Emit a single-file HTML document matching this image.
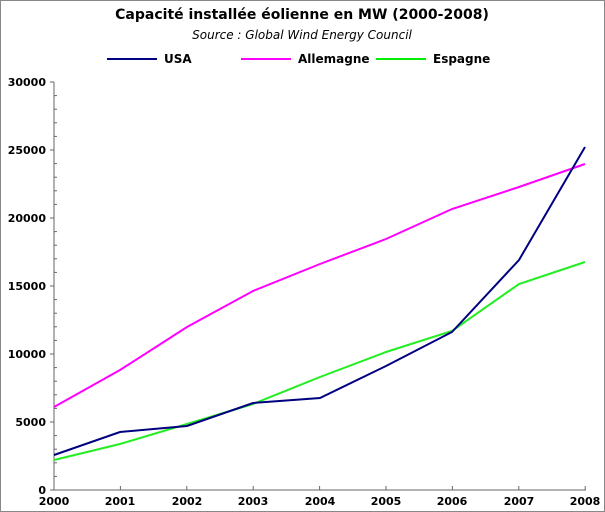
<!DOCTYPE html>
<html><head><style>
html,body{margin:0;padding:0;background:#fff}
svg{display:block}
text{font-family:"DejaVu Sans","Liberation Sans",sans-serif}
</style></head><body>
<svg width="605" height="512" viewBox="0 0 605 512">
<rect x="0.5" y="0.5" width="604" height="511" fill="#fff" stroke="#888"/>
<text x="302" y="19" text-anchor="middle" font-size="14" font-weight="bold">Capacité installée éolienne en MW (2000-2008)</text>
<text x="302" y="39" text-anchor="middle" font-size="12" font-style="italic">Source : Global Wind Energy Council</text>
<line x1="107" y1="59" x2="157" y2="59" stroke="#000080" stroke-width="2"/>
<text x="164" y="63" font-size="12" font-weight="bold">USA</text>
<line x1="241" y1="59" x2="291" y2="59" stroke="#ff00ff" stroke-width="2"/>
<text x="298" y="63" font-size="12" font-weight="bold">Allemagne</text>
<line x1="376" y1="59" x2="426" y2="59" stroke="#00ee00" stroke-width="2"/>
<text x="433" y="63" font-size="12" font-weight="bold">Espagne</text>
<g stroke="#666" stroke-width="1">
<line x1="54" y1="82" x2="54" y2="490"/>
<line x1="54" y1="490" x2="586" y2="490"/>
</g>
<g id="ticks" stroke="#666" stroke-width="1"></g>
<g font-size="11" font-weight="bold" text-anchor="end">
<text x="46" y="494">0</text><text x="46" y="426">5000</text><text x="46" y="358">10000</text>
<text x="46" y="290">15000</text><text x="46" y="222">20000</text><text x="46" y="154">25000</text><text x="46" y="86">30000</text>
</g>
<g font-size="11" font-weight="bold" text-anchor="middle">
<text x="54" y="505">2000</text><text x="120" y="505">2001</text><text x="187" y="505">2002</text>
<text x="253" y="505">2003</text><text x="320" y="505">2004</text><text x="386" y="505">2005</text>
<text x="452" y="505">2006</text><text x="519" y="505">2007</text><text x="585" y="505">2008</text>
</g>
<g fill="none" stroke-width="2">
<polyline stroke="#ff00ff" points="54,407 120,370 187,327 253,291 320,264 386,239 452,209 519,187 585,164"/>
<polyline stroke="#22ee22" points="54,460 120,444 187,424 253,404 320,377 386,352 452,331 519,284 585,262"/>
<polyline stroke="#000080" points="54,455 120,432 187,426 253,403 320,398 386,366 452,332 519,260 585,147"/>
</g>
</svg>
<script>
var g=document.getElementById('ticks'),s='';
for(var i=0;i<=30;i++){var y=490-i*13.6;var big=i%5==0;s+='<line x1="'+(big?50:54)+'" y1="'+y+'" x2="'+(big?54:57)+'" y2="'+y+'"/>';}
for(var j=0;j<=8;j++){var x=54+j*66.4;s+='<line x1="'+x+'" y1="490" x2="'+x+'" y2="486"/>';}
g.innerHTML=s;
</script>
</body></html>
